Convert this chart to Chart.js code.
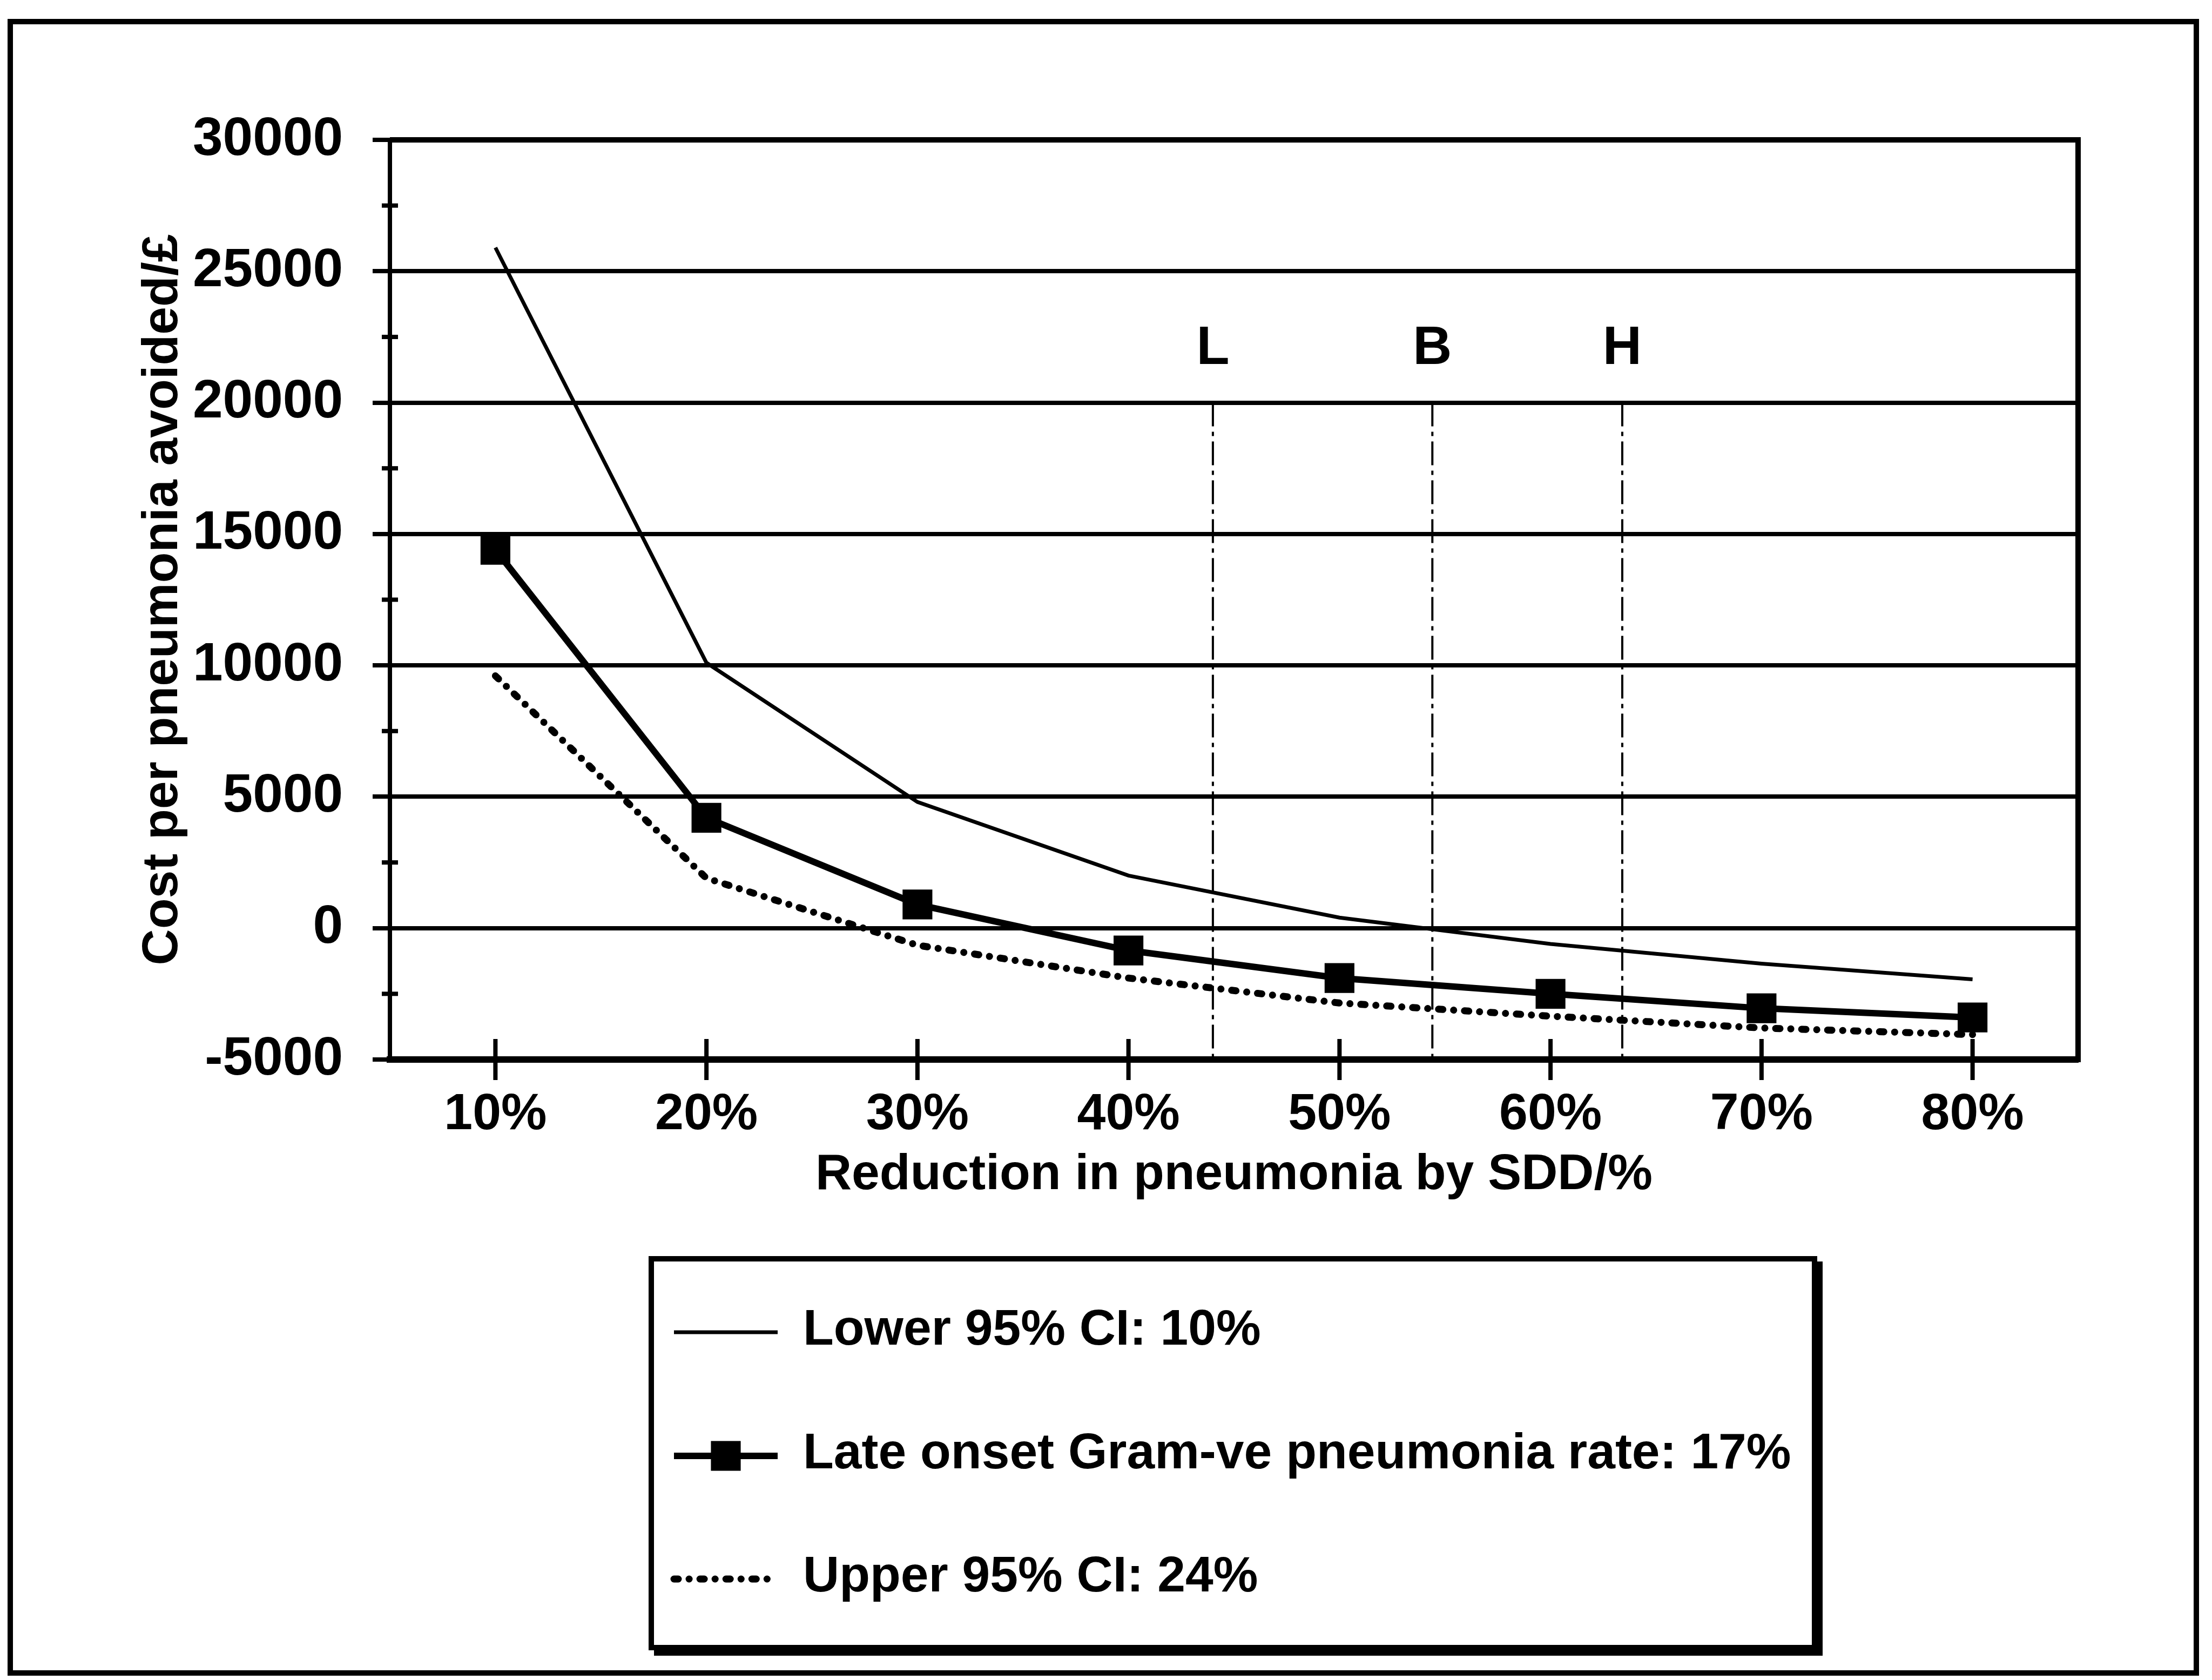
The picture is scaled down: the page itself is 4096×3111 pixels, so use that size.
<!DOCTYPE html>
<html>
<head>
<meta charset="utf-8">
<title>Cost per pneumonia avoided</title>
<style>
  html, body { margin: 0; padding: 0; background: #fff; }
  #wrap { position: relative; width: 4096px; height: 3111px; overflow: hidden; }
  canvas { display: block; }
</style>
<script src="https://cdn.jsdelivr.net/npm/chart.js@4.4.1/dist/chart.umd.min.js"></script>
</head>
<body>
<div id="wrap"><canvas id="chart" width="4096" height="3111"></canvas></div>
<script>
// Reduction in pneumonia achieved by SDD (x categories)
const categories = ['10%', '20%', '30%', '40%', '50%', '60%', '70%', '80%'];

// Cost per pneumonia avoided (£) for each pneumonia-rate assumption
const lowerCI   = [25900, 10100, 4800, 2000, 400, -600, -1350, -1950];
const lateOnset = [14400, 4200, 900, -850, -1900, -2500, -3050, -3400];
const upperCI   = [9600, 1900, -650, -1900, -2850, -3350, -3800, -4050];

const seriesNames = [
  'Lower 95% CI: 10%',
  'Late onset Gram-ve pneumonia rate: 17%',
  'Upper 95% CI: 24%'
];

// y axis ticks (labelled) and the unlabelled half-step ticks
const yTickValues  = [-5000, 0, 5000, 10000, 15000, 20000, 25000, 30000];
const yMinorValues = [-2500, 2500, 7500, 12500, 17500, 22500, 27500];

// Reference reductions marked with vertical lines (percent)
const markerLabels     = ['L', 'B', 'H'];
const markerReductions = [44, 54.4, 63.4];
const markerTopValue   = 20000;

const xTitle = 'Reduction in pneumonia by SDD/%';
const yTitle = 'Cost per pneumonia avoided/£';

const FONT = '"Liberation Sans", Arial, sans-serif';
const INK = '#000';
const yTickFont  = { family: FONT, size: 100, weight: 'bold' };
const xTickFont  = { family: FONT, size: 95, weight: 'bold' };
const titleFont  = { family: FONT, size: 93, weight: 'bold' };
const legendFont = `bold 93px ${FONT}`;
const markerFont = `bold 100px ${FONT}`;

// percent reduction -> fractional category index
const pctToIndex = p => (p - 10) / 10;

const pageFrame = {
  id: 'pageFrame',
  beforeDraw(chart) {
    const ctx = chart.ctx;
    ctx.save();
    ctx.fillStyle = '#fff';
    ctx.fillRect(0, 0, chart.width, chart.height);
    ctx.strokeStyle = INK;
    ctx.lineWidth = 10;
    ctx.strokeRect(19, 40, 4067 - 19, 3098 - 40);
    ctx.restore();
  }
};

const plotMarks = {
  id: 'plotMarks',
  beforeDatasetsDraw(chart) {
    const { ctx, chartArea: a, scales: { x, y } } = chart;
    ctx.save();
    ctx.strokeStyle = INK;
    ctx.lineCap = 'butt';

    // top and right edges of the plot box
    ctx.lineWidth = 10;
    ctx.beginPath();
    ctx.moveTo(a.left, a.top);
    ctx.lineTo(a.right + 5, a.top);
    ctx.stroke();
    ctx.beginPath();
    ctx.moveTo(a.right, a.top);
    ctx.lineTo(a.right, a.bottom + 5);
    ctx.stroke();

    // half-step ticks crossing the y axis
    ctx.lineWidth = 8;
    yMinorValues.forEach(v => {
      const py = y.getPixelForValue(v);
      ctx.beginPath();
      ctx.moveTo(a.left - 15, py);
      ctx.lineTo(a.left + 15, py);
      ctx.stroke();
    });

    // category ticks crossing the x axis
    categories.forEach((c, i) => {
      const px = x.getPixelForValue(i);
      ctx.beginPath();
      ctx.moveTo(px, a.bottom - 38);
      ctx.lineTo(px, a.bottom + 38);
      ctx.stroke();
    });

    // L / B / H reference lines
    ctx.lineWidth = 4;
    ctx.setLineDash([44, 10, 8, 10]);
    const yTop = y.getPixelForValue(markerTopValue);
    markerReductions.forEach(p => {
      const px = x.getPixelForValue(pctToIndex(p));
      ctx.beginPath();
      ctx.moveTo(px, yTop);
      ctx.lineTo(px, a.bottom);
      ctx.stroke();
    });
    ctx.setLineDash([]);

    ctx.fillStyle = INK;
    ctx.font = markerFont;
    ctx.textAlign = 'center';
    ctx.textBaseline = 'alphabetic';
    markerLabels.forEach((t, i) => {
      const px = x.getPixelForValue(pctToIndex(markerReductions[i]));
      ctx.fillText(t, px, yTop - 72);
    });
    ctx.restore();
  }
};

const boxedLegend = {
  id: 'boxedLegend',
  afterDraw(chart) {
    const ctx = chart.ctx;
    const L = 1201, T = 2326, R = 3365, B = 3056, sh = 10;
    ctx.save();
    ctx.fillStyle = INK;
    ctx.fillRect(L + sh, B, R - L, sh);
    ctx.fillRect(R, T + sh, sh, B - T);
    ctx.strokeStyle = INK;
    ctx.lineWidth = 10;
    ctx.strokeRect(L + 5, T + 5, R - L - 10, B - T - 10);

    const rows = [2467, 2696, 2924];
    chart.data.datasets.forEach((ds, i) => {
      const cy = rows[i];
      ctx.save();
      ctx.strokeStyle = ds.borderColor;
      ctx.lineWidth = ds.borderWidth;
      ctx.setLineDash(ds.borderDash || []);
      ctx.lineCap = ds.borderCapStyle || 'butt';
      ctx.beginPath();
      ctx.moveTo(1248, cy);
      ctx.lineTo(1440, cy);
      ctx.stroke();
      if (ds.pointStyle === 'rect') {
        const s = ds.pointRadius * Math.SQRT2;
        ctx.fillStyle = ds.pointBackgroundColor;
        ctx.fillRect(1344 - s / 2, cy - s / 2, s, s);
      }
      ctx.restore();
      ctx.fillStyle = INK;
      ctx.font = legendFont;
      ctx.textAlign = 'left';
      ctx.textBaseline = 'middle';
      ctx.fillText(ds.label, 1487, cy - 3);
    });
    ctx.restore();
  }
};

new Chart(document.getElementById('chart'), {
  type: 'line',
  data: {
    labels: categories,
    datasets: [
      {
        label: seriesNames[0],
        data: lowerCI,
        borderColor: INK,
        borderWidth: 7,
        pointRadius: 0,
        tension: 0,
        fill: false
      },
      {
        label: seriesNames[1],
        data: lateOnset,
        borderColor: INK,
        borderWidth: 12,
        pointStyle: 'rect',
        pointRadius: 39,
        pointHoverRadius: 39,
        pointBackgroundColor: INK,
        pointBorderWidth: 0,
        tension: 0,
        fill: false
      },
      {
        label: seriesNames[2],
        data: upperCI,
        borderColor: INK,
        borderWidth: 13,
        borderDash: [8, 20, 0.1, 20],
        borderCapStyle: 'round',
        pointRadius: 0,
        tension: 0,
        fill: false
      }
    ]
  },
  options: {
    responsive: false,
    animation: false,
    devicePixelRatio: 1,
    events: [],
    layout: { padding: { left: 0, right: 248, top: 259, bottom: 0 } },
    plugins: { legend: { display: false }, tooltip: { enabled: false } },
    scales: {
      x: {
        type: 'category',
        offset: true,
        grid: { display: false, drawTicks: false },
        border: { display: true, width: 12, color: INK },
        ticks: { color: INK, font: xTickFont, padding: 46, maxRotation: 0, autoSkip: false },
        title: {
          display: true, text: xTitle, color: INK, font: titleFont,
          padding: { top: 0, bottom: 879 }
        },
        afterFit(s) { s.height = 1149; }
      },
      y: {
        min: -5000,
        max: 30000,
        afterBuildTicks(s) { s.ticks = yTickValues.map(v => ({ value: v })); },
        ticks: { color: INK, font: yTickFont, padding: 55, callback: v => String(v) },
        grid: {
          color: INK, lineWidth: 8, drawTicks: true,
          tickLength: 32, tickWidth: 8, tickColor: INK
        },
        border: { display: true, width: 8, color: INK },
        title: {
          display: true, text: yTitle, color: INK, font: titleFont,
          padding: { top: 247, bottom: 0 }
        },
        afterFit(s) { s.width = 722; }
      }
    }
  },
  plugins: [pageFrame, plotMarks, boxedLegend]
});
</script>
</body>
</html>
